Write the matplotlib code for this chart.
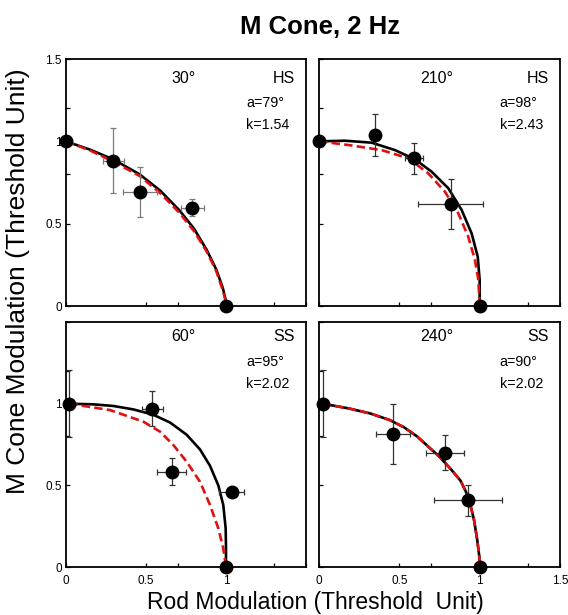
import matplotlib.pyplot as plt

plt.rcParams['font.family'] = ['Liberation Sans', 'DejaVu Sans']

# textos de cada panel (orden: 30, 210, 60, 240)
angulos = ['30°', '210°', '60°', '240°']
condicion = ['HS', 'HS', 'SS', 'SS']
param_a = ['a=79°', 'a=98°', 'a=95°', 'a=90°']
param_k = ['k=1.54', 'k=2.43', 'k=2.02', 'k=2.02']

# datos medidos (rod, cone) y errores
rod_30 = [0.0, 0.296, 0.4625, 0.79, 1.0]
cone_30 = [1.0, 0.882, 0.694, 0.597, 0.0]
rod_err_30 = [0, 0.067, 0.106, 0.07, 0]
cone_err_30 = [0, 0.197, 0.153, 0.051, 0]

rod_210 = [0.0, 0.348, 0.593, 0.821, 1.0]
cone_210 = [1.0, 1.038, 0.897, 0.619, 0.0]
rod_err_210 = [0, 0.0, 0.056, 0.202, 0]
cone_err_210 = [0, 0.127, 0.095, 0.15, 0]

rod_60 = [0.02, 0.54, 0.66, 1.035, 1.0]
cone_60 = [1.0, 0.97, 0.584, 0.457, 0.0]
rod_err_60 = [0, 0.067, 0.092, 0.077, 0]
cone_err_60 = [0.204, 0.106, 0.082, 0, 0]

rod_240 = [0.023, 0.459, 0.784, 0.929, 1.0]
cone_240 = [1.0, 0.814, 0.70, 0.41, 0.0]
rod_err_240 = [0, 0.106, 0.12, 0.213, 0]
cone_err_240 = [0.206, 0.183, 0.107, 0.095, 0]

# curvas de ajuste (negra continua y roja discontinua)
negra_x_30 = [0.0, 0.15, 0.296, 0.46, 0.59, 0.71, 0.80, 0.88, 0.94, 0.98, 0.995, 1.0]
negra_y_30 = [1.0, 0.95, 0.89, 0.80, 0.70, 0.58, 0.47, 0.34, 0.22, 0.11, 0.05, 0.0]
roja_x_30 = [0.0, 0.15, 0.30, 0.46, 0.59, 0.71, 0.80, 0.88, 0.94, 0.975, 0.993, 1.0]
roja_y_30 = [1.0, 0.945, 0.875, 0.79, 0.685, 0.565, 0.455, 0.33, 0.21, 0.11, 0.05, 0.0]

negra_x_210 = [0.0, 0.162, 0.328, 0.473, 0.597, 0.701, 0.805, 0.888, 0.95, 0.988, 1.0, 1.0]
negra_y_210 = [1.0, 1.004, 0.992, 0.947, 0.891, 0.816, 0.715, 0.583, 0.441, 0.30, 0.158, 0.0]
roja_x_210 = [0.0, 0.182, 0.39, 0.556, 0.68, 0.784, 0.867, 0.929, 0.971, 0.992, 1.0]
roja_y_210 = [1.0, 0.978, 0.947, 0.897, 0.806, 0.694, 0.563, 0.421, 0.279, 0.158, 0.0]

negra_x_60 = [0.02, 0.171, 0.296, 0.421, 0.546, 0.65, 0.754, 0.8375, 0.90, 0.952, 0.983, 0.998, 1.0, 1.0]
negra_y_60 = [1.0, 0.996, 0.986, 0.965, 0.932, 0.885, 0.81, 0.72, 0.62, 0.50, 0.38, 0.237, 0.114, 0.0]
roja_x_60 = [0.02, 0.275, 0.483, 0.5875, 0.671, 0.754, 0.8375, 0.90, 0.952, 0.983, 1.0]
roja_y_60 = [1.0, 0.961, 0.89, 0.829, 0.747, 0.645, 0.522, 0.38, 0.237, 0.114, 0.0]

negra_x_240 = [0.023, 0.19, 0.32, 0.44, 0.53, 0.61, 0.75, 0.82, 0.88, 0.915, 0.94, 0.965, 0.985, 0.998, 1.0]
negra_y_240 = [1.0, 0.97, 0.94, 0.90, 0.855, 0.80, 0.675, 0.60, 0.53, 0.46, 0.39, 0.288, 0.165, 0.063, 0.0]
roja_x_240 = negra_x_240
roja_y_240 = negra_y_240

paneles = [
    (rod_30, cone_30, rod_err_30, cone_err_30, negra_x_30, negra_y_30, roja_x_30, roja_y_30),
    (rod_210, cone_210, rod_err_210, cone_err_210, negra_x_210, negra_y_210, roja_x_210, roja_y_210),
    (rod_60, cone_60, rod_err_60, cone_err_60, negra_x_60, negra_y_60, roja_x_60, roja_y_60),
    (rod_240, cone_240, rod_err_240, cone_err_240, negra_x_240, negra_y_240, roja_x_240, roja_y_240),
]

posiciones = [
    [0.1162, 0.5024, 0.4225, 0.4016],
    [0.5616, 0.5024, 0.4243, 0.4016],
    [0.1162, 0.0780, 0.4225, 0.3984],
    [0.5616, 0.0780, 0.4243, 0.3984],
]
color_err = ['#7a7a7a', '#333333', '#333333', '#333333']

fig = plt.figure(figsize=(5.68, 6.15), dpi=100)

for i, (rx, cy, rerr, cerr, nx, ny, jx, jy) in enumerate(paneles):
    ax = fig.add_axes(posiciones[i])
    ax.plot(nx, ny, color='black', lw=1.9, clip_on=False, zorder=2, solid_joinstyle='round')
    ax.plot(jx, jy, color='#e01010', lw=1.9, ls=(0, (3.2, 1.6)), clip_on=False, zorder=3)
    ax.errorbar(rx, cy, xerr=rerr, yerr=cerr, fmt='none', ecolor=color_err[i],
                elinewidth=0.9, capsize=2.2, capthick=0.9, clip_on=False, zorder=4)
    ax.plot(rx, cy, 'o', color='black', ms=9, clip_on=False, zorder=5)

    ax.set_xlim(0, 1.5)
    ax.set_ylim(0, 1.5)
    ax.set_xticks([0, 0.5, 1, 1.5])
    ax.set_yticks([0, 0.5, 1, 1.5])
    ax.set_xticks([0.7, 1.3], minor=True)
    ax.set_yticks([0.8, 1.2], minor=True)
    ax.tick_params(which='both', direction='in', length=3, width=0.9,
                   top=False, right=False, labelsize=8.5)
    ax.tick_params(axis='y', pad=3)
    ax.tick_params(axis='x', pad=6)
    for s in ax.spines.values():
        s.set_linewidth(1.3)

    if i == 0:
        ax.set_yticklabels(['0', '0.5', '1', '1.5'])
    elif i == 2:
        ax.set_yticklabels(['0', '0.5', '1', ''])
    else:
        ax.set_yticklabels([])
    if i == 2:
        ax.set_xticklabels(['0', '0.5', '1', ''])
    elif i == 3:
        ax.set_xticklabels(['0', '0.5', '1', '1.5'])
    else:
        ax.set_xticklabels([])

    y0 = 0.923 if i < 2 else 0.939
    ax.text(0.49, y0, angulos[i], transform=ax.transAxes, ha='center', va='center', fontsize=11.5)
    ax.text(0.954, y0, condicion[i], transform=ax.transAxes, ha='right', va='center', fontsize=11.5)
    ax.text(0.75, y0 - 0.101, param_a[i], transform=ax.transAxes, ha='left', va='center', fontsize=10.3)
    ax.text(0.75, y0 - 0.19, param_k[i], transform=ax.transAxes, ha='left', va='center', fontsize=10.3)

fig.text(0.5634, 0.945, 'M Cone, 2 Hz', ha='center', va='baseline', fontsize=18.5, fontweight='bold')
fig.text(0.556, 0.0098, 'Rod Modulation (Threshold  Unit)', ha='center', va='baseline', fontsize=16.5)
fig.text(0.031, 0.542, 'M Cone Modulation (Threshold Unit)', ha='center', va='center',
         rotation=90, fontsize=19)

fig.savefig('out.png', dpi=100)
